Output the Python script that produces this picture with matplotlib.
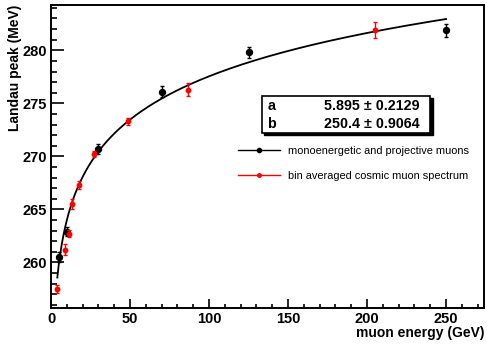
import numpy as np
import matplotlib
matplotlib.use('Agg')
import matplotlib.pyplot as plt
from matplotlib.lines import Line2D
from matplotlib.patches import Rectangle
from matplotlib.ticker import MultipleLocator

plt.rcParams['font.family'] = ['Liberation Sans', 'DejaVu Sans']

# monoenergetic, projective muons
mono_energy = [5, 10, 30, 70, 125, 250]
mono_peak = [260.5, 262.9, 270.7, 276.1, 279.8, 281.9]
mono_err = [0.45, 0.45, 0.45, 0.5, 0.55, 0.6]

# bin averaged cosmic muon spectrum
cosmic_energy = [3.8, 8.6, 11.2, 13.6, 17.7, 27.3, 49.0, 87.0, 205.0]
cosmic_peak = [257.5, 261.2, 262.7, 265.5, 267.3, 270.2, 273.3, 276.3, 281.9]
cosmic_err = [0.35, 0.5, 0.35, 0.45, 0.35, 0.3, 0.35, 0.6, 0.75]

# fit: peak = a*ln(E) + b
fit_a, fit_a_err = 5.895, 0.2129
fit_b, fit_b_err = 250.4, 0.9064
fit_range = (4, 250)

W, H = 487, 345
fig = plt.figure(figsize=(W / 100, H / 100), dpi=100)
ax = fig.add_axes([51 / W, 1 - 308 / H, 433.3 / W, 303.3 / H])


def px(x, y):
    return x / W, 1 - y / H


e = np.geomspace(*fit_range, 400)
ax.plot(e, fit_a * np.log(e) + fit_b, color='black', lw=1.3, zorder=2)

ax.errorbar(mono_energy, mono_peak, yerr=mono_err, fmt='o', color='black',
            ms=4.3, elinewidth=1, capsize=1.6, capthick=1, zorder=3)
ax.errorbar(cosmic_energy, cosmic_peak, yerr=cosmic_err, fmt='o', color='red',
            ms=3.2, elinewidth=1, capsize=1.6, capthick=1, zorder=4)

ax.set_xlim(0, 274.2)
ax.set_ylim(255.7, 284.3)
ax.xaxis.set_major_locator(MultipleLocator(50))
ax.xaxis.set_minor_locator(MultipleLocator(10))
ax.yaxis.set_major_locator(MultipleLocator(5))
ax.yaxis.set_minor_locator(MultipleLocator(1))
ax.tick_params(which='both', direction='in', top=False, right=False,
               width=1.2, labelsize=10.5)
ax.tick_params(axis='y', which='major', length=9.1, pad=3)
ax.tick_params(axis='y', which='minor', length=4.5)
ax.tick_params(axis='x', which='major', length=6.5, pad=3)
ax.tick_params(axis='x', which='minor', length=3.2)
for lab in ax.get_xticklabels() + ax.get_yticklabels():
    lab.set_fontweight('bold')
for sp in ax.spines.values():
    sp.set_linewidth(1.4)

fig.text(*px(484, 333), 'muon energy (GeV)', ha='right', va='center',
         fontsize=10, fontweight='bold')
fig.text(*px(15, 5), 'Landau peak (MeV)', ha='center', va='top',
         rotation=90, fontsize=10, fontweight='bold')

# fit parameter box with drop shadow
bx0, by0, bx1, by1 = 261.7, 96, 430, 132.7
x0, y0 = px(bx0, by1)
x1, y1 = px(bx1, by0)
sx, sy = 2.5 / W, 2.5 / H
fig.patches.append(Rectangle((x0 + sx, y0 - sy), x1 - x0, y1 - y0,
                             transform=fig.transFigure, facecolor='black',
                             edgecolor='black', zorder=5))
fig.patches.append(Rectangle((x0, y0), x1 - x0, y1 - y0,
                             transform=fig.transFigure, facecolor='white',
                             edgecolor='black', lw=1.2, zorder=6))
rows = [('a', fit_a, fit_a_err, 105.7), ('b', fit_b, fit_b_err, 124.3)]
for name, val, err, ry in rows:
    fig.text(*px(267.5, ry), name, ha='left', va='center', fontsize=10.3,
             fontweight='bold', zorder=7)
    fig.text(*px(420, ry), f'{val:g} \u00b1 {err:g}', ha='right', va='center',
             fontsize=10.3, fontweight='bold', zorder=7)

handles = [
    Line2D([], [], color='black', lw=1, marker='o', ms=3),
    Line2D([], [], color='red', lw=1, marker='o', ms=2.5),
]
labels = ['monoenergetic and projective muons',
          'bin averaged cosmic muon spectrum']
ax.legend(handles, labels, loc='center left',
          bbox_to_anchor=((238 - 51) / 433.3, (308 - 163.7) / 303.3),
          frameon=False, fontsize=7.9, handlelength=3.8, handletextpad=0.8,
          labelspacing=1.35, borderpad=0, borderaxespad=0)

fig.savefig('out.png', dpi=100)
